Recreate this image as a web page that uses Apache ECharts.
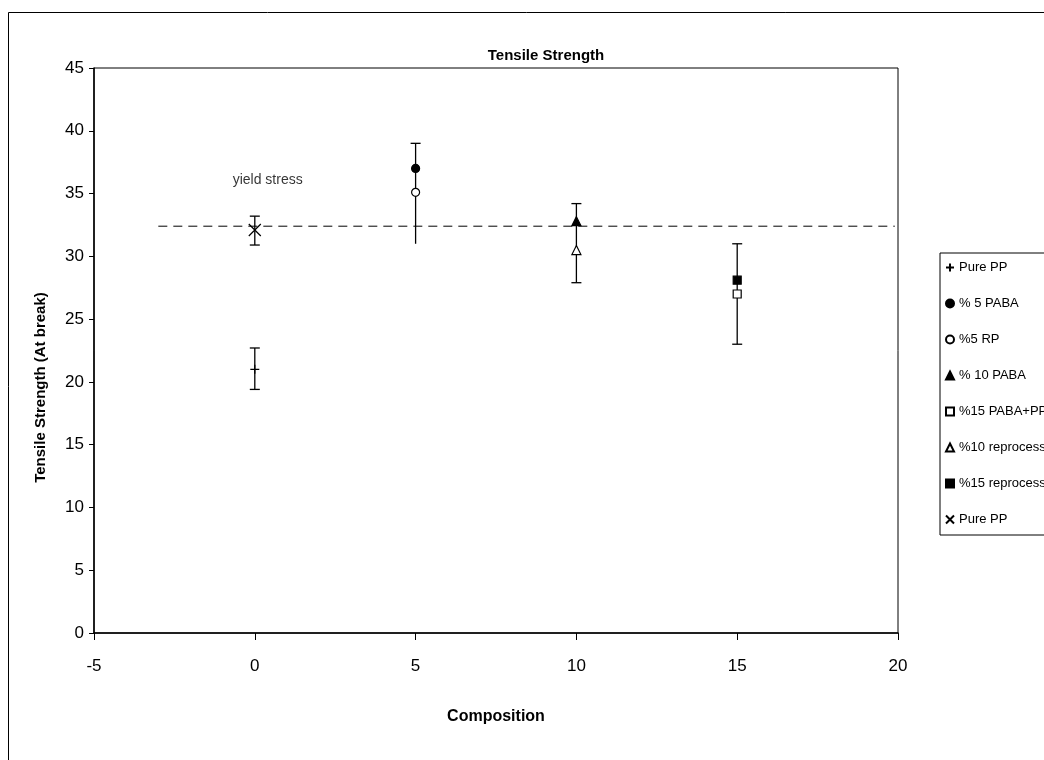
<!DOCTYPE html>
<html>
<head>
<meta charset="utf-8">
<script src="https://cdn.jsdelivr.net/npm/echarts@6/dist/echarts.min.js"></script>
<style>
  html, body { margin: 0; padding: 0; background: #fff; }
  #chart { width: 1044px; height: 760px; }
</style>
</head>
<body>
<div id="chart"></div>
<script>
// series (one marker each, two at 5/10/15 share a composition)
const seriesNames = ['Pure PP', '% 5 PABA', '%5 RP', '% 10 PABA', '%15 PABA+PP', '%10 reprocess', '%15 reprocess', 'Pure PP '];
const pointX = [0, 5, 5, 10, 15, 10, 15, 0];
const pointY = [21.0, 37.0, 35.1, 32.8, 27.0, 30.5, 28.1, 32.1];

// error bars
const errX = [0, 0, 5, 10, 15];
const errLow = [19.4, 30.9, 31.0, 27.9, 23.0];
const errHigh = [22.7, 33.2, 39.0, 34.2, 31.0];
const errLowCap = [1, 1, 0, 1, 1];

// yield stress reference line
const yieldX = [-3, 19.9];
const yieldY = 32.4;
const yieldLabelPos = [0.4, 36.1];

const FONT = "'Liberation Sans Narrow', 'Liberation Sans', Arial, sans-serif";

// marker look for each series
const markers = [
  { symbol: 'path://M0,5H10M5,0V10', size: 9, fill: 'transparent' },
  { symbol: 'circle', size: 8, fill: '#000' },
  { symbol: 'circle', size: 8, fill: '#fff' },
  { symbol: 'triangle', size: 9, fill: '#000' },
  { symbol: 'rect', size: 8, fill: '#fff' },
  { symbol: 'triangle', size: 9, fill: '#fff' },
  { symbol: 'rect', size: 8, fill: '#000' },
  { symbol: 'path://M0,0L10,10M10,0L0,10', size: 12, fill: 'transparent' }
];

const chart = echarts.init(document.getElementById('chart'));

const series = [];

// yield stress dashed line
series.push({
  type: 'line',
  name: 'yield',
  data: yieldX.map(x => [x, yieldY]),
  symbol: 'none',
  silent: true,
  lineStyle: { color: '#000', width: 1, type: [9, 6] },
  z: 1
});

// error bars
series.push({
  type: 'custom',
  name: 'err',
  silent: true,
  z: 2,
  data: errX.map((x, i) => [x, errLow[i], errHigh[i], errLowCap[i]]),
  renderItem: function (params, api) {
    const lo = api.coord([api.value(0), api.value(1)]);
    const hi = api.coord([api.value(0), api.value(2)]);
    const hw = 5;
    const st = { stroke: '#000', lineWidth: 1.3 };
    const kids = [
      { type: 'line', shape: { x1: lo[0], y1: lo[1], x2: hi[0], y2: hi[1] }, style: st },
      { type: 'line', shape: { x1: hi[0] - hw, y1: hi[1], x2: hi[0] + hw, y2: hi[1] }, style: st }
    ];
    if (api.value(3)) {
      kids.push({ type: 'line', shape: { x1: lo[0] - hw, y1: lo[1], x2: lo[0] + hw, y2: lo[1] }, style: st });
    }
    return { type: 'group', children: kids };
  }
});

// markers
seriesNames.forEach((name, i) => {
  const m = markers[i];
  series.push({
    type: 'scatter',
    name: name,
    data: [[pointX[i], pointY[i]]],
    symbol: m.symbol,
    symbolSize: m.size,
    itemStyle: { color: m.fill, borderColor: '#000', borderWidth: 1.2, opacity: 1 },
    z: 5
  });
});

// yield stress label
series.push({
  type: 'scatter',
  name: 'label',
  data: [yieldLabelPos],
  symbol: 'circle',
  symbolSize: 1,
  itemStyle: { color: 'transparent' },
  silent: true,
  label: {
    show: true,
    position: 'inside',
    formatter: 'yield stress',
    color: '#000',
    textBorderWidth: 0,
    fontSize: 14,
    fontFamily: FONT
  }
});

chart.setOption({
  backgroundColor: '#fff',
  animation: false,
  title: {
    text: 'Tensile Strength',
    left: 541,
    textAlign: 'center',
    top: 43,
    textStyle: { fontSize: 15, fontWeight: 'bold', color: '#000', fontFamily: FONT }
  },
  graphic: [{
    type: 'rect',
    left: 6,
    top: 10,
    shape: { width: 1200, height: 900 },
    style: { fill: 'none', stroke: '#000', lineWidth: 1 },
    silent: true,
    z: -10
  }],
  legend: {
    orient: 'vertical',
    left: 940,
    top: 253,
    data: seriesNames,
    itemWidth: 8,
    itemHeight: 8,
    itemGap: 23,
    padding: [8, 30, 9, 5],
    borderColor: '#000',
    borderWidth: 1,
    borderRadius: 0,
    backgroundColor: '#fff',
    textStyle: { fontSize: 13, color: '#000', fontFamily: FONT, padding: [0, 0, 0, 0], height: 14 }
  },
  grid: {
    left: 94,
    right: 146,
    top: 68,
    bottom: 127,
    show: true,
    borderColor: '#000',
    borderWidth: 1,
    containLabel: false
  },
  xAxis: {
    type: 'value',
    min: -5,
    max: 20,
    interval: 5,
    name: 'Composition',
    nameLocation: 'middle',
    nameGap: 76,
    nameTextStyle: { fontSize: 16, fontWeight: 'bold', color: '#000', fontFamily: FONT },
    axisLine: { onZero: false, lineStyle: { color: '#000', width: 1.5 } },
    axisTick: { show: true, length: 7, lineStyle: { color: '#000' } },
    axisLabel: { fontSize: 17, color: '#000', margin: 25, fontFamily: FONT },
    splitLine: { show: false }
  },
  yAxis: {
    type: 'value',
    min: 0,
    max: 45,
    interval: 5,
    name: 'Tensile Strength (At break)',
    nameLocation: 'middle',
    nameGap: 46,
    nameTextStyle: { fontSize: 15, fontWeight: 'bold', color: '#000', fontFamily: FONT, padding: [0, 74, 0, 0] },
    axisLine: { onZero: false, lineStyle: { color: '#000', width: 1.5 } },
    axisTick: { show: true, length: 5, lineStyle: { color: '#000' } },
    axisLabel: { fontSize: 17, color: '#000', margin: 10, fontFamily: FONT },
    splitLine: { show: false }
  },
  series: series
});
</script>
</body>
</html>
